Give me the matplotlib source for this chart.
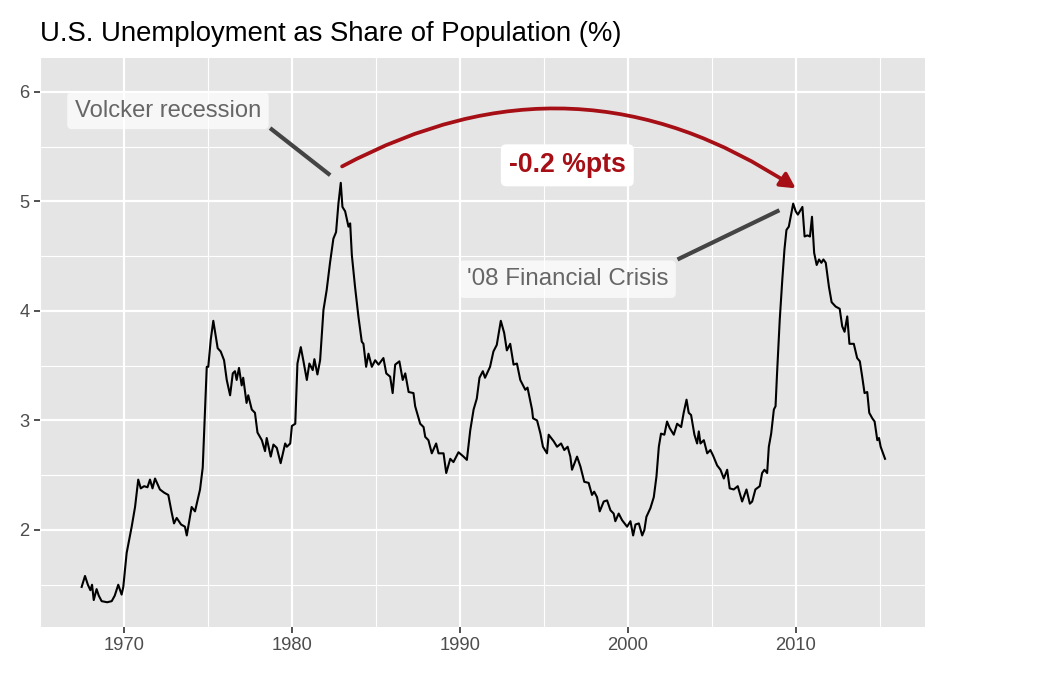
import matplotlib
matplotlib.use("Agg")
import matplotlib.pyplot as plt

plt.rcParams['font.family'] = ['Liberation Sans', 'DejaVu Sans']

# unemployment / population (%)
years = [
    1967.48, 1967.68, 1967.85, 1968.0, 1968.1, 1968.2, 1968.37, 1968.5, 1968.67, 1969.0,
    1969.27, 1969.45, 1969.66, 1969.86, 1969.96, 1970.16, 1970.46, 1970.66, 1970.85, 1971.0,
    1971.2, 1971.4, 1971.55, 1971.7, 1971.85, 1972.14, 1972.4, 1972.64, 1972.84, 1972.98,
    1973.14, 1973.4, 1973.63, 1973.74, 1974.03, 1974.23, 1974.53, 1974.69, 1974.93, 1975.02,
    1975.17, 1975.32, 1975.58, 1975.76, 1975.96, 1976.12, 1976.32, 1976.48, 1976.61, 1976.71,
    1976.85, 1977.01, 1977.1, 1977.3, 1977.4, 1977.61, 1977.8, 1977.95, 1978.21, 1978.4,
    1978.5, 1978.74, 1978.9, 1979.1, 1979.33, 1979.6, 1979.7, 1979.9, 1980.0, 1980.2,
    1980.33, 1980.53, 1980.69, 1980.89, 1981.04, 1981.24, 1981.34, 1981.52, 1981.68, 1981.88,
    1982.07, 1982.27, 1982.47, 1982.63, 1982.77, 1982.91, 1983.01, 1983.17, 1983.37, 1983.47,
    1983.57, 1983.76, 1983.96, 1984.16, 1984.26, 1984.42, 1984.56, 1984.76, 1984.96, 1985.16,
    1985.45, 1985.62, 1985.85, 1986.0, 1986.15, 1986.4, 1986.6, 1986.75, 1986.95, 1987.24,
    1987.34, 1987.64, 1987.84, 1987.94, 1988.13, 1988.33, 1988.59, 1988.73, 1989.03, 1989.19,
    1989.43, 1989.62, 1989.92, 1990.22, 1990.42, 1990.62, 1990.82, 1991.01, 1991.17, 1991.37,
    1991.5, 1991.8, 1992.0, 1992.2, 1992.44, 1992.64, 1992.8, 1993.0, 1993.2, 1993.4,
    1993.6, 1993.9, 1994.03, 1994.3, 1994.36, 1994.6, 1994.8, 1994.95, 1995.19, 1995.29,
    1995.59, 1995.79, 1996.03, 1996.22, 1996.42, 1996.58, 1996.68, 1996.98, 1997.18, 1997.41,
    1997.67, 1997.87, 1998.0, 1998.17, 1998.33, 1998.57, 1998.77, 1998.97, 1999.16, 1999.26,
    1999.46, 1999.66, 1999.96, 2000.16, 2000.32, 2000.46, 2000.66, 2000.86, 2000.99, 2001.11,
    2001.35, 2001.55, 2001.71, 2001.85, 2001.98, 2002.18, 2002.34, 2002.5, 2002.74, 2002.94,
    2003.18, 2003.33, 2003.5, 2003.63, 2003.77, 2003.97, 2004.13, 2004.23, 2004.33, 2004.53,
    2004.73, 2004.92, 2005.08, 2005.32, 2005.52, 2005.72, 2005.92, 2006.07, 2006.31, 2006.55,
    2006.81, 2007.07, 2007.27, 2007.41, 2007.6, 2007.86, 2008.0, 2008.14, 2008.3, 2008.4,
    2008.54, 2008.7, 2008.8, 2008.89, 2009.05, 2009.2, 2009.33, 2009.45, 2009.59, 2009.7,
    2009.85, 2010.0, 2010.13, 2010.4, 2010.53, 2010.7, 2010.85, 2010.97, 2011.1, 2011.25,
    2011.39, 2011.53, 2011.65, 2011.79, 2011.98, 2012.14, 2012.38, 2012.62, 2012.77, 2012.91,
    2013.07, 2013.2, 2013.46, 2013.66, 2013.82, 2013.96, 2014.1, 2014.26, 2014.38, 2014.56,
    2014.7, 2014.86, 2014.96, 2015.06, 2015.32,
]
share = [
    1.48, 1.58, 1.50, 1.45, 1.50, 1.36, 1.46, 1.40, 1.35, 1.34,
    1.35, 1.40, 1.50, 1.41, 1.48, 1.79, 2.03, 2.21, 2.46, 2.38,
    2.40, 2.39, 2.46, 2.38, 2.47, 2.37, 2.34, 2.32, 2.16, 2.06,
    2.11, 2.05, 2.03, 1.95, 2.21, 2.17, 2.37, 2.57, 3.49, 3.49,
    3.74, 3.91, 3.66, 3.63, 3.55, 3.37, 3.23, 3.43, 3.45, 3.37,
    3.48, 3.32, 3.39, 3.16, 3.23, 3.10, 3.07, 2.89, 2.82, 2.72,
    2.84, 2.67, 2.78, 2.75, 2.61, 2.79, 2.76, 2.79, 2.95, 2.97,
    3.52, 3.67, 3.54, 3.37, 3.52, 3.46, 3.56, 3.42, 3.55, 4.01,
    4.19, 4.44, 4.66, 4.72, 4.98, 5.17, 4.95, 4.91, 4.77, 4.80,
    4.51, 4.22, 3.95, 3.72, 3.70, 3.49, 3.61, 3.49, 3.55, 3.51,
    3.57, 3.43, 3.40, 3.25, 3.51, 3.54, 3.37, 3.43, 3.26, 3.25,
    3.13, 2.97, 2.94, 2.85, 2.82, 2.70, 2.79, 2.70, 2.70, 2.52,
    2.65, 2.62, 2.71, 2.67, 2.64, 2.91, 3.10, 3.20, 3.39, 3.45,
    3.39, 3.49, 3.63, 3.69, 3.91, 3.80, 3.64, 3.70, 3.51, 3.52,
    3.37, 3.28, 3.30, 3.10, 3.02, 3.00, 2.88, 2.76, 2.70, 2.87,
    2.81, 2.76, 2.79, 2.73, 2.76, 2.67, 2.55, 2.67, 2.58, 2.44,
    2.43, 2.32, 2.35, 2.30, 2.17, 2.26, 2.27, 2.18, 2.15, 2.08,
    2.15, 2.09, 2.03, 2.08, 1.95, 2.05, 2.06, 1.95, 2.00, 2.12,
    2.20, 2.30, 2.49, 2.76, 2.88, 2.87, 2.99, 2.93, 2.87, 2.97,
    2.94, 3.07, 3.19, 3.07, 3.05, 2.87, 2.79, 2.90, 2.79, 2.82,
    2.70, 2.73, 2.68, 2.59, 2.55, 2.47, 2.55, 2.38, 2.37, 2.40,
    2.26, 2.37, 2.24, 2.26, 2.37, 2.40, 2.52, 2.55, 2.52, 2.76,
    2.88, 3.10, 3.13, 3.43, 3.92, 4.28, 4.56, 4.74, 4.77, 4.86,
    4.98, 4.91, 4.88, 4.95, 4.68, 4.69, 4.68, 4.86, 4.53, 4.42,
    4.47, 4.44, 4.47, 4.44, 4.22, 4.08, 4.04, 4.02, 3.86, 3.81,
    3.95, 3.70, 3.70, 3.57, 3.54, 3.40, 3.25, 3.26, 3.07, 3.02,
    2.99, 2.82, 2.84, 2.76, 2.65,
]

x_major = [1970, 1980, 1990, 2000, 2010]
x_minor = [1965, 1975, 1985, 1995, 2005, 2015]
y_major = [2, 3, 4, 5, 6]
y_minor = [1.5, 2.5, 3.5, 4.5, 5.5]

red = '#A50F15'

fig = plt.figure(figsize=(7, 4.5), dpi=150)
ax = fig.add_axes([40 / 1050, 48 / 675, 885 / 1050, 569 / 675])
ax.set_facecolor('#E5E5E5')
for s in ax.spines.values():
    s.set_visible(False)

ax.set_xlim(1965.0, 2017.7)
ax.set_ylim(1.114, 6.31)
ax.set_xticks(x_major)
ax.set_xticks(x_minor, minor=True)
ax.set_yticks(y_major)
ax.set_yticks(y_minor, minor=True)
ax.grid(which='major', color='white', linewidth=1.07)
ax.grid(which='minor', color='white', linewidth=0.55)
ax.set_axisbelow(True)
ax.tick_params(which='major', length=2.75, width=0.8, color='#333333',
               labelsize=8.8, labelcolor='#4D4D4D', pad=2.2)
ax.tick_params(which='minor', length=0)

ax.plot(years, share, color='black', linewidth=1.0)

# label boxes
lab_box = dict(boxstyle='round,pad=0.32,rounding_size=0.2', facecolor='white',
               edgecolor='none', alpha=0.7)
ax.plot([1978.7, 1982.28], [5.67, 5.24], color='#444444', linewidth=2.0,
        solid_capstyle='butt')
ax.text(1972.62, 5.83, 'Volcker recession', fontsize=11.4, color='#666666',
        ha='center', va='center', bbox=lab_box)
ax.plot([2002.96, 2009.03], [4.47, 4.92], color='#444444', linewidth=2.0,
        solid_capstyle='butt')
ax.text(1996.4, 4.29, "'08 Financial Crisis", fontsize=11.6, color='#666666',
        ha='center', va='center', bbox=lab_box)

ax.annotate('', xy=(2010.0, 5.12), xytext=(1982.99, 5.32),
            arrowprops=dict(arrowstyle='-|>,head_length=0.6,head_width=0.32',
                            color=red, linewidth=1.8, shrinkA=0, shrinkB=0,
                            connectionstyle='arc3,rad=-0.3'))
ax.text(1996.4, 5.33, '-0.2 %pts', fontsize=12.8, fontweight='bold', color=red,
        ha='center', va='center',
        bbox=dict(boxstyle='round,pad=0.3,rounding_size=0.2', facecolor='white',
                  edgecolor='none'))

fig.text(40 / 1050, 1 - 41 / 675, 'U.S. Unemployment as Share of Population (%)',
         fontsize=13.2, color='black', ha='left', va='baseline')

fig.savefig('out.png', dpi=150, facecolor='white')
